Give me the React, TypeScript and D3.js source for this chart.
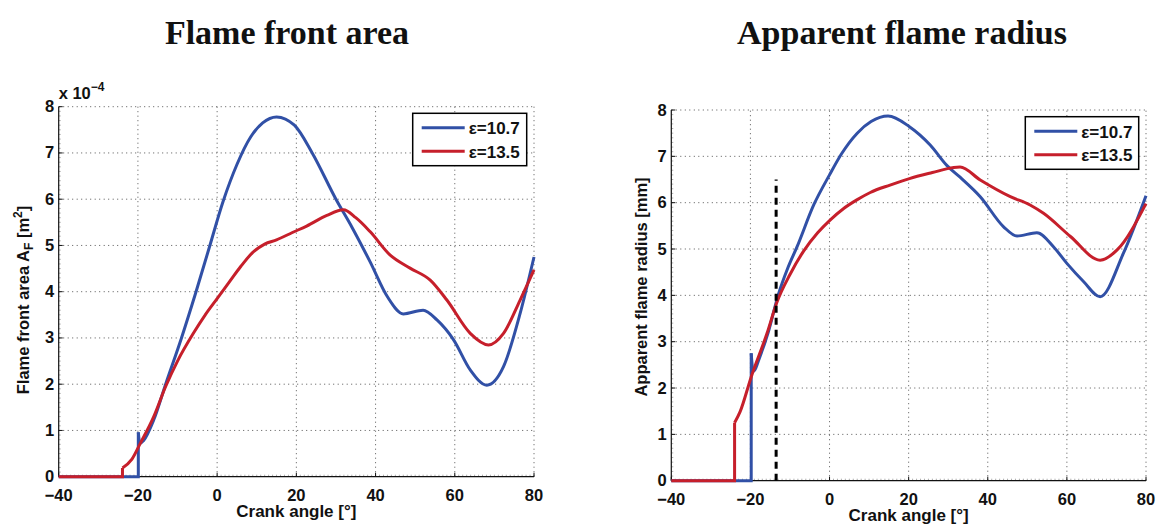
import React from 'react';
import * as d3 from 'd3';

const angleTicks = [-40, -20, 0, 20, 40, 60, 80];
const valueTicks = [0, 1, 2, 3, 4, 5, 6, 7, 8];
const legendLabels = ['ε=10.7', 'ε=13.5'];
const seriesColors = ['#3150a6', '#c61f2b'];

// Flame front area (x 1e-4 m^2) vs crank angle
const areaEps107: [number, number][] = [
  [-40, 0], [-19.9, 0], [-19.9, 0.96], [-19.5, 0.72], [-18.6, 0.78], [-16, 1.23], [-13, 2.0],
  [-9, 3.0], [-5.5, 3.95], [-2, 4.95], [1.5, 5.95], [5, 6.75], [8.5, 7.35], [11.5, 7.65],
  [15, 7.78], [19.5, 7.6], [24, 7.0], [30, 6.0], [34, 5.4], [38.6, 4.65], [43, 3.89],
  [47, 3.52], [52, 3.6], [55.5, 3.39], [59.7, 2.96], [63.9, 2.31], [68.1, 1.98],
  [72.3, 2.38], [76.5, 3.53], [80, 4.75],
];
const areaEps135: [number, number][] = [
  [-40, 0], [-23.9, 0], [-23.9, 0.19], [-21.5, 0.38], [-19.4, 0.72], [-16, 1.3], [-13, 1.95],
  [-10, 2.5], [-6, 3.1], [-3, 3.5], [0, 3.85], [3, 4.2], [6, 4.55], [9, 4.85], [12, 5.03],
  [15, 5.12], [19, 5.28], [22.6, 5.42], [27.7, 5.65], [31.9, 5.77], [35, 5.6], [38.6, 5.3],
  [43.7, 4.79], [48.7, 4.51], [53.8, 4.25], [58, 3.82], [63.9, 3.1], [68.5, 2.85],
  [72.3, 3.1], [76.5, 3.82], [80, 4.47],
];

// Apparent flame radius (mm) vs crank angle
const radiusEps107: [number, number][] = [
  [-40, 0], [-19.8, 0], [-19.8, 2.75], [-19.3, 2.36], [-17.5, 2.7], [-15.5, 3.2], [-13, 4.0],
  [-10.5, 4.6], [-8.2, 5.05], [-4, 5.95], [0, 6.6], [3, 7.05], [7, 7.5], [10.5, 7.75],
  [14.8, 7.87], [20.2, 7.64], [25.5, 7.24], [29.7, 6.8], [33, 6.55], [38.1, 6.13], [44, 5.48],
  [47.4, 5.28], [52.4, 5.35], [56.6, 5.05], [60, 4.69], [64.2, 4.3], [68.4, 3.97],
  [74.3, 4.91], [80, 6.15],
];
const radiusEps135: [number, number][] = [
  [-40, 0], [-24, 0], [-24, 1.25], [-22.6, 1.49], [-19.8, 2.24], [-15.8, 3.18], [-13.3, 3.85],
  [-10, 4.45], [-6.6, 4.95], [-3, 5.35], [0.2, 5.63], [3.5, 5.87], [6.9, 6.06], [10.3, 6.22],
  [15.3, 6.38], [20.2, 6.52], [26, 6.65], [31.4, 6.76], [33, 6.77], [38.1, 6.49], [45.7, 6.13],
  [50.7, 5.95], [54.1, 5.77], [60.9, 5.27], [68.4, 4.76], [72.7, 4.98], [80, 5.98],
];
const ignitionAngle = -13.5;
const ignitionTop = 6.5;

const FONT = 'Liberation Sans, Arial, Helvetica, sans-serif';

type Series = [number, number][];

function splitSeries(s: Series): [Series, Series] {
  const j = s.findIndex((p) => p[1] > 0);
  return [s.slice(0, j + 1), s.slice(j)];
}

interface ChartProps {
  xRange: [number, number];
  yRange: [number, number];
  title: string;
  titleX: number;
  series: Series[];
  yLabel: React.ReactNode;
  yLabelX: number;
  yLabelY: number;
  xLabelY: number;
  legend: { x: number; y: number; w: number; h: number };
  multiplier?: boolean;
  marker?: { angle: number; top: number };
}

function Chart(p: ChartProps) {
  const x = d3.scaleLinear().domain([-40, 80]).range(p.xRange);
  const y = d3.scaleLinear().domain([0, 8]).range(p.yRange);
  const lin = d3.line<[number, number]>().x((d) => x(d[0])).y((d) => y(d[1]));
  const smooth = d3
    .line<[number, number]>()
    .x((d) => x(d[0]))
    .y((d) => y(d[1]))
    .curve(d3.curveMonotoneX);
  const minorX = d3.range(-40, 80.01, 1);
  const minorY = d3.range(0, 8.001, 0.1);
  const [x0, x1] = p.xRange;
  const [yb, yt] = p.yRange;
  return (
    <g>
      <text
        x={p.titleX}
        y={44}
        textAnchor="middle"
        fontFamily="Liberation Serif, DejaVu Serif, serif"
        fontWeight="bold"
        fontSize={34}
        fill="#111"
      >
        {p.title}
      </text>
      {/* grid */}
      {angleTicks.slice(1).map((t) => (
        <line key={'gx' + t} x1={x(t)} x2={x(t)} y1={yb} y2={yt} stroke="#555" strokeWidth={1} strokeDasharray="1,3.5" />
      ))}
      {valueTicks.slice(1).map((t) => (
        <line key={'gy' + t} x1={x0} x2={x1} y1={y(t)} y2={y(t)} stroke="#555" strokeWidth={1} strokeDasharray="1,3.5" />
      ))}
      {/* minor ticks */}
      {minorX.map((t) => (
        <line key={'mx' + t} x1={x(t)} x2={x(t)} y1={yb} y2={yb - 2} stroke="#777" strokeWidth={0.6} />
      ))}
      {minorY.map((t, i) => (
        <line key={'my' + i} x1={x0} x2={x0 + 2} y1={y(t)} y2={y(t)} stroke="#777" strokeWidth={0.6} />
      ))}
      {/* major ticks */}
      {angleTicks.map((t) => (
        <line key={'tx' + t} x1={x(t)} x2={x(t)} y1={yb} y2={yb - 4} stroke="#111" strokeWidth={1} />
      ))}
      {valueTicks.map((t) => (
        <line key={'ty' + t} x1={x0} x2={x0 + 4} y1={y(t)} y2={y(t)} stroke="#111" strokeWidth={1} />
      ))}
      {/* axes */}
      <line x1={x0} x2={x1} y1={yb} y2={yb} stroke="#111" strokeWidth={1.2} />
      <line x1={x0} x2={x0} y1={yb} y2={yt} stroke="#111" strokeWidth={1.2} />
      {/* tick labels */}
      {angleTicks.map((t) => (
        <text key={'lx' + t} x={x(t)} y={yb + 24} textAnchor="middle" fontFamily={FONT} fontWeight="bold" fontSize={16.5} fill="#111">
          {t < 0 ? '\u2212' + Math.abs(t) : String(t)}
        </text>
      ))}
      {valueTicks.map((t) => (
        <text key={'ly' + t} x={x0 - 4.5} y={y(t) + 5.5} textAnchor="end" fontFamily={FONT} fontWeight="bold" fontSize={16.5} fill="#111">
          {t}
        </text>
      ))}
      {p.multiplier && (
        <text x={x0} y={yt - 7.5} fontFamily={FONT} fontWeight="bold" fontSize={16.5} fill="#111">
          x 10
          <tspan dy={-8} fontSize={12}>{'\u22124'}</tspan>
        </text>
      )}
      {/* axis labels */}
      <text x={(x0 + x1) / 2} y={p.xLabelY} textAnchor="middle" fontFamily={FONT} fontWeight="bold" fontSize={17} fill="#111">
        Crank angle [°]
      </text>
      <text
        transform={`translate(${p.yLabelX},${p.yLabelY}) rotate(-90)`}
        textAnchor="middle"
        fontFamily={FONT}
        fontWeight="bold"
        fontSize={16.5}
        fill="#111"
      >
        {p.yLabel}
      </text>
      {/* series */}
      {p.series.map((s, i) => {
        const [a, b] = splitSeries(s);
        return (
          <g key={'s' + i}>
            <path d={lin(a) || ''} fill="none" stroke={seriesColors[i]} strokeWidth={3} />
            <path d={smooth(b) || ''} fill="none" stroke={seriesColors[i]} strokeWidth={3} strokeLinejoin="round" />
          </g>
        );
      })}
      {p.marker && (
        <line
          x1={x(p.marker.angle)}
          x2={x(p.marker.angle)}
          y1={y(0)}
          y2={y(p.marker.top)}
          stroke="#000"
          strokeWidth={3}
          strokeDasharray="7,5"
        />
      )}
      {/* legend */}
      <rect x={p.legend.x} y={p.legend.y} width={p.legend.w} height={p.legend.h} fill="#fff" stroke="#000" strokeWidth={1.5} />
      {legendLabels.map((lab, i) => {
        const ly = p.legend.y + 14.5 + i * 23.5;
        return (
          <g key={'lg' + i}>
            <line x1={p.legend.x + 9} x2={p.legend.x + 52} y1={ly} y2={ly} stroke={seriesColors[i]} strokeWidth={3} />
            <text x={p.legend.x + 56} y={ly + 6.5} fontFamily={FONT} fontWeight="bold" fontSize={17} fill="#111">
              {lab}
            </text>
          </g>
        );
      })}
    </g>
  );
}

export default function App() {
  return (
    <svg
      width={1157}
      height={524}
      viewBox="0 0 1157 524"
      style={{ position: 'absolute', left: 0, top: 0, background: '#fff' }}
    >
      <rect x={0} y={0} width={1157} height={524} fill="#fff" />
      <Chart
        xRange={[58.7, 534]}
        yRange={[476.7, 106.7]}
        title="Flame front area"
        titleX={287}
        series={[areaEps107, areaEps135]}
        yLabel={
          <>
            Flame front area A<tspan dy={4} fontSize={12}>F</tspan>
            <tspan dy={-4}> [m</tspan>
            <tspan dy={-7} fontSize={12}>2</tspan>
            <tspan dy={7}>]</tspan>
          </>
        }
        yLabelX={29}
        yLabelY={300}
        xLabelY={517}
        legend={{ x: 412.7, y: 113.3, w: 114, h: 52.4 }}
        multiplier
      />
      <Chart
        xRange={[671.3, 1146]}
        yRange={[480.7, 110]}
        title="Apparent flame radius"
        titleX={902}
        series={[radiusEps107, radiusEps135]}
        yLabel={<>Apparent flame radius [mm]</>}
        yLabelX={647}
        yLabelY={287}
        xLabelY={521}
        legend={{ x: 1025.3, y: 116.7, w: 113.4, h: 52.6 }}
        marker={{ angle: ignitionAngle, top: ignitionTop }}
      />
    </svg>
  );
}
